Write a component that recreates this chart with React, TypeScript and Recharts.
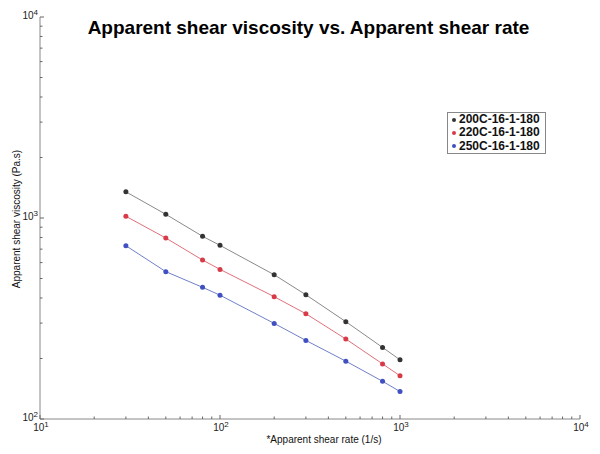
import React from 'react';
import { LineChart, Line, XAxis, YAxis } from 'recharts';

const shearRate = [30, 50, 80, 100, 200, 300, 500, 800, 1000];
const visc200 = [1350, 1043, 811, 731, 522, 415, 305, 227, 197];
const visc220 = [1020, 795, 618, 555, 406, 334, 250, 188, 164];
const visc250 = [728, 541, 452, 413, 299, 246, 194, 154, 137];

const seriesNames = ['200C-16-1-180', '220C-16-1-180', '250C-16-1-180'];
const lineColors = ['#8a8a8a', '#e0707a', '#7080c8'];
const dotColors = ['#333333', '#d83a48', '#4050c0'];

const xTicks: number[] = [];
for (let e = 1; e < 4; e++) for (let m = 1; m < 10; m++) xTicks.push(m * Math.pow(10, e));
xTicks.push(10000);
const yTicks: number[] = [];
for (let e = 2; e < 4; e++) for (let m = 1; m < 10; m++) yTicks.push(m * Math.pow(10, e));
yTicks.push(10000);

const data = shearRate.map((x, i) => ({ x, a: visc200[i], b: visc220[i], c: visc250[i] }));

const FONT = 'Liberation Sans, Arial, sans-serif';

const isMajor = (v: number) => Math.abs(Math.log10(v) - Math.round(Math.log10(v))) < 1e-9;

const XTick = (props: any) => {
  const { x, y, payload } = props;
  const v = payload.value;
  const major = isMajor(v);
  const exp = Math.round(Math.log10(v));
  return (
    <g>
      <line x1={x} x2={x} y1={y} y2={y - (major ? 4 : 2.5)} stroke="#666" strokeWidth={1} />
      {major && (
        <text x={x + 1} y={y + 12} textAnchor="middle" fontFamily={FONT} fontSize={10} fill="#222">
          10<tspan dy={-4} fontSize={8}>{exp}</tspan>
        </text>
      )}
    </g>
  );
};

const YTick = (props: any) => {
  const { x, y, payload } = props;
  const v = payload.value;
  const major = isMajor(v);
  const exp = Math.round(Math.log10(v));
  return (
    <g>
      <line x1={x} x2={x + (major ? 4 : 2.5)} y1={y} y2={y} stroke="#666" strokeWidth={1} />
      {major && (
        <text x={x - 2} y={y + 2} textAnchor="end" fontFamily={FONT} fontSize={10} fill="#222">
          10<tspan dy={-4} fontSize={8}>{exp}</tspan>
        </text>
      )}
    </g>
  );
};

const LegendBox = () => (
  <div
    style={{
      position: 'absolute',
      left: 447,
      top: 112,
      border: '1px solid #888',
      background: '#fff',
      padding: '0px 5px 0px 4px',
      fontFamily: FONT,
      fontWeight: 'bold',
      fontSize: 12,
      lineHeight: '13.3px',
      color: '#111',
    }}
  >
    {seriesNames.map((n, i) => (
      <div key={n} style={{ display: 'flex', alignItems: 'center', height: 13.3 }}>
        <span
          style={{
            display: 'inline-block',
            width: 4,
            height: 4,
            borderRadius: 2,
            background: dotColors[i],
            marginRight: 3,
          }}
        />
        {n}
      </div>
    ))}
  </div>
);

export default function App() {
  return (
    <div style={{ position: 'absolute', left: 0, top: 0, width: 600, height: 454, background: '#fff' }}>
      <LineChart width={600} height={454} data={data} margin={{ top: 17, right: 20, bottom: 0, left: 0 }}>
        <XAxis
          dataKey="x"
          type="number"
          scale="log"
          domain={[10, 10000]}
          ticks={xTicks}
          interval={0}
          allowDataOverflow
          height={35}
          tickSize={0}
          tickMargin={0}
          tickLine={false}
          tick={<XTick />}
          stroke="#888"
        />
        <YAxis
          type="number"
          scale="log"
          domain={[100, 10000]}
          ticks={yTicks}
          interval={0}
          allowDataOverflow
          width={40}
          tickSize={0}
          tickMargin={0}
          tickLine={false}
          tick={<YTick />}
          stroke="#888"
        />
        <Line dataKey="a" name={seriesNames[0]} stroke={lineColors[0]} strokeWidth={1} isAnimationActive={false}
          dot={{ r: 2.5, fill: dotColors[0], stroke: dotColors[0], strokeWidth: 0 }} />
        <Line dataKey="b" name={seriesNames[1]} stroke={lineColors[1]} strokeWidth={1} isAnimationActive={false}
          dot={{ r: 2.5, fill: dotColors[1], stroke: dotColors[1], strokeWidth: 0 }} />
        <Line dataKey="c" name={seriesNames[2]} stroke={lineColors[2]} strokeWidth={1} isAnimationActive={false}
          dot={{ r: 2.5, fill: dotColors[2], stroke: dotColors[2], strokeWidth: 0 }} />
      </LineChart>
      <div
        style={{
          position: 'absolute',
          left: 0,
          top: 17,
          width: 617,
          textAlign: 'center',
          fontFamily: FONT,
          fontWeight: 900,
          fontSize: 19,
          color: '#000',
        }}
      >
        Apparent shear viscosity vs. Apparent shear rate
      </div>
      <LegendBox />
      <div
        style={{
          position: 'absolute',
          left: 224,
          top: 434,
          width: 200,
          textAlign: 'center',
          fontFamily: FONT,
          fontSize: 10,
          color: '#111',
        }}
      >
        *Apparent shear rate (1/s)
      </div>
      <div
        style={{
          position: 'absolute',
          left: 17 - 100,
          top: 219 - 7,
          width: 200,
          textAlign: 'center',
          transform: 'rotate(-90deg)',
          fontFamily: FONT,
          fontSize: 10,
          lineHeight: '14px',
          color: '#111',
        }}
      >
        Apparent shear viscosity (Pa.s)
      </div>
    </div>
  );
}
